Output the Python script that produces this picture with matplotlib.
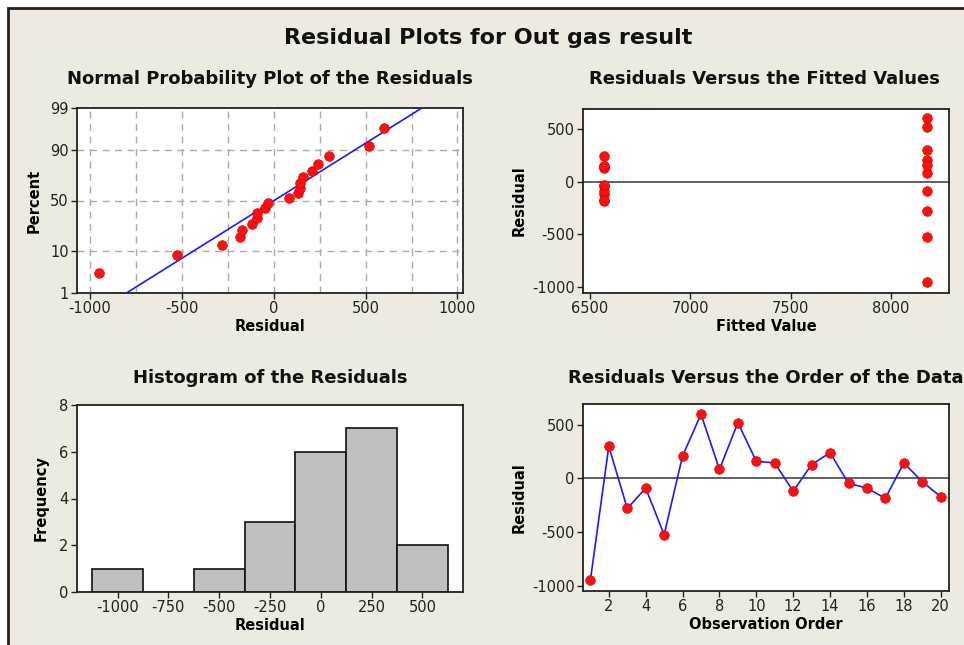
import numpy as np
from statistics import NormalDist
from matplotlib import pyplot as plt
from matplotlib.patches import Rectangle

# residuals in observation order
residuals = [-950, 300, -280, -90, -525, 210, 600, 85, 520, 160,
             145, -120, 130, 240, -45, -90, -185, 145, -30, -170]
# fitted values: two groups
fitted = [8180] * 10 + [6570] * 10
order = list(range(1, 21))

pct_ticks = [1, 10, 50, 90, 99]
pct_grid = [10, 50, 90]
hist_edges = [-1125, -875, -625, -375, -125, 125, 375, 625]
hist_ticks = [-1000, -750, -500, -250, 0, 250, 500]

plt.rcParams['axes.unicode_minus'] = False
plt.rcParams['font.family'] = 'DejaVu Sans'

BG = '#eeeae2'
RED = '#ff1010'
BLUE = '#1a1aff'
W, H = 964, 645

fig = plt.figure(figsize=(W / 100, H / 100), dpi=100)
fig.patch.set_facecolor('white')
fig.patches.append(Rectangle((8 / W, -0.1), 1.2, 1 - 8 / H + 0.1, transform=fig.transFigure,
                             facecolor=BG, edgecolor='#222222', lw=2, zorder=-10))


def box(l, t, r, b):
    return [l / W, 1 - b / H, (r - l) / W, (b - t) / H]


def style(ax):
    ax.set_facecolor('white')
    for s in ax.spines.values():
        s.set_linewidth(1.3)
        s.set_color('#222222')
    ax.tick_params(labelsize=10.5, length=4, width=1, colors='#222222', pad=2)


z = NormalDist()
lab_kw = dict(fontsize=10.5, fontweight='bold')
dot = dict(s=48, color=RED, edgecolors='#dd0000', linewidths=0.5, zorder=4)

# normal probability plot
ax1 = fig.add_axes(box(77, 108, 463, 293))
style(ax1)
n = len(residuals)
srt = np.sort(residuals)
pp = [(i - 0.3) / (n + 0.4) for i in range(1, n + 1)]
zq = [z.inv_cdf(p) for p in pp]
mu, sd = np.mean(residuals), np.std(residuals, ddof=1)
zl = np.array([z.inv_cdf(0.01), z.inv_cdf(0.99)])
ax1.plot(mu + sd * zl, zl, color=BLUE, lw=1.2, zorder=3)
ax1.scatter(srt, zq, **dot)
for xv in range(-1000, 1001, 250):
    ax1.axvline(xv, color='#aaaaaa', ls=(0, (5, 4)), lw=1, zorder=1)
for pv in pct_grid:
    ax1.axhline(z.inv_cdf(pv / 100), color='#aaaaaa', ls=(0, (5, 4)), lw=1, zorder=1)
ax1.set_ylim(zl[0], zl[1])
ax1.set_xlim(-1070, 1030)
ax1.set_yticks([z.inv_cdf(p / 100) for p in pct_ticks])
ax1.set_yticklabels([str(p) for p in pct_ticks])
ax1.set_xticks([-1000, -500, 0, 500, 1000])
ax1.set_xlabel('Residual', labelpad=2, **lab_kw)
ax1.set_ylabel('Percent', labelpad=6, **lab_kw)

# residuals vs fitted
ax2 = fig.add_axes(box(583, 109, 949, 293))
style(ax2)
ax2.axhline(0, color='#444444', lw=1.2, zorder=1)
ax2.scatter(fitted, residuals, **dot)
ax2.set_xlim(6465, 8290)
ax2.set_ylim(-1057, 690)
ax2.set_xticks([6500, 7000, 7500, 8000])
ax2.set_yticks([-1000, -500, 0, 500])
ax2.set_xlabel('Fitted Value', labelpad=2, **lab_kw)
ax2.set_ylabel('Residual', labelpad=4, **lab_kw)

# histogram
ax3 = fig.add_axes(box(77, 405, 463, 592))
style(ax3)
ax3.hist(residuals, bins=hist_edges, color='#c0c0c0', edgecolor='#111111', lw=1.2)
ax3.set_xlim(-1200, 700)
ax3.set_ylim(0, 8)
ax3.set_xticks(hist_ticks)
ax3.set_yticks([0, 2, 4, 6, 8])
ax3.set_xlabel('Residual', labelpad=2, **lab_kw)
ax3.set_ylabel('Frequency', labelpad=8, **lab_kw)

# residuals vs order
ax4 = fig.add_axes(box(583, 404, 949, 591))
style(ax4)
ax4.axhline(0, color='#444444', lw=1.2, zorder=1)
ax4.plot(order, residuals, color=BLUE, lw=1.2, zorder=3)
ax4.scatter(order, residuals, **dot)
ax4.set_xlim(0.6, 20.45)
ax4.set_ylim(-1050, 695)
ax4.set_xticks(range(2, 21, 2))
ax4.set_yticks([-1000, -500, 0, 500])
ax4.set_xlabel('Observation Order', labelpad=2, **lab_kw)
ax4.set_ylabel('Residual', labelpad=4, **lab_kw)

# titles
fig.text(488 / W, 1 - 38 / H, 'Residual Plots for Out gas result', ha='center', va='center',
         fontsize=16, fontweight='bold', color='#111111')
sub = dict(ha='center', va='center', fontsize=13, fontweight='bold', color='#111111')
fig.text(270 / W, 1 - 79 / H, 'Normal Probability Plot of the Residuals', **sub)
fig.text(764 / W, 1 - 79 / H, 'Residuals Versus the Fitted Values', **sub)
fig.text(270 / W, 1 - 378 / H, 'Histogram of the Residuals', **sub)
fig.text(766 / W, 1 - 378 / H, 'Residuals Versus the Order of the Data', **sub)

fig.savefig('out.png', dpi=100)
